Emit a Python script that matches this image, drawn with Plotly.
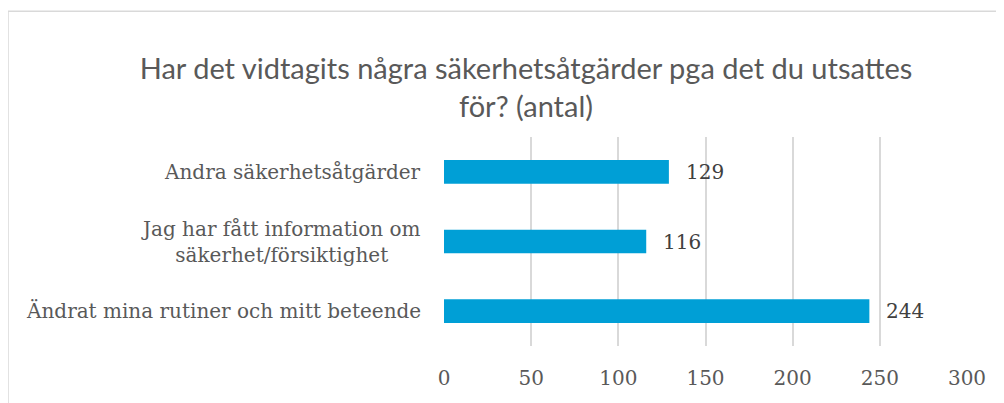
import plotly.graph_objects as go

categories = ["Ändrat mina rutiner och mitt beteende",
              "Jag har fått information om<br>säkerhet/försiktighet",
              "Andra säkerhetsåtgärder"]
values = [244, 116, 129]
x_ticks = [0, 50, 100, 150, 200, 250, 300]
title_text = "Har det vidtagits några säkerhetsåtgärder pga det du utsattes<br>för? (antal)"

W, H = 1004, 403
OFF = 8  # page body offset
L, R, T, B = 444 - OFF, 967 - OFF, 137 - OFF, 346.5 - OFF

fig = go.Figure(go.Bar(
    x=values, y=categories, orientation="h",
    marker=dict(color="#009FD6", line=dict(width=0)),
    width=0.34,
))

annotations = []
for c, v in zip(categories, values):
    annotations.append(dict(x=v, y=c, xref="x", yref="y", text=str(v),
                            showarrow=False, xanchor="left", xshift=15,
                            font=dict(family="DejaVu Serif", size=20, color="#404040")))
    annotations.append(dict(x=0, y=c, xref="paper", yref="y", text=c,
                            showarrow=False, xanchor="right", xshift=-21, align="center",
                            font=dict(family="DejaVu Serif", size=20, color="#595959")))

pw, ph = R - L, B - T
fig.add_shape(type="rect", xref="paper", yref="paper",
              x0=(8 - OFF - L) / pw, x1=(W + 20 - L) / pw,
              y0=(B - (H + 20)) / ph, y1=(B - (11 - OFF)) / ph,
              line=dict(color="#d9d9d9", width=1.5), fillcolor="rgba(0,0,0,0)", layer="below")

fig.update_layout(
    width=W, height=H,
    margin=dict(l=L, r=W - R, t=T, b=H - B, pad=0),
    paper_bgcolor="white", plot_bgcolor="white",
    showlegend=False,
    title=dict(text=title_text, x=(526 - OFF) / W, xanchor="center", xref="container",
               y=1 - (79 - OFF) / H, yanchor="middle", yref="container",
               font=dict(family="Lato", size=29, color="#595959")),
    xaxis=dict(range=[0, 300], tickvals=x_ticks, showgrid=True, gridcolor="#d9d9d9",
               gridwidth=1.5, zeroline=False, showline=False,
               tickfont=dict(family="DejaVu Serif", size=20, color="#595959"),
               ticklabelstandoff=18, fixedrange=True),
    yaxis=dict(showticklabels=False, showgrid=False, zeroline=False, showline=False,
               range=[-0.5, 2.5]),
    annotations=annotations,
)
fig.write_html("out.html")
